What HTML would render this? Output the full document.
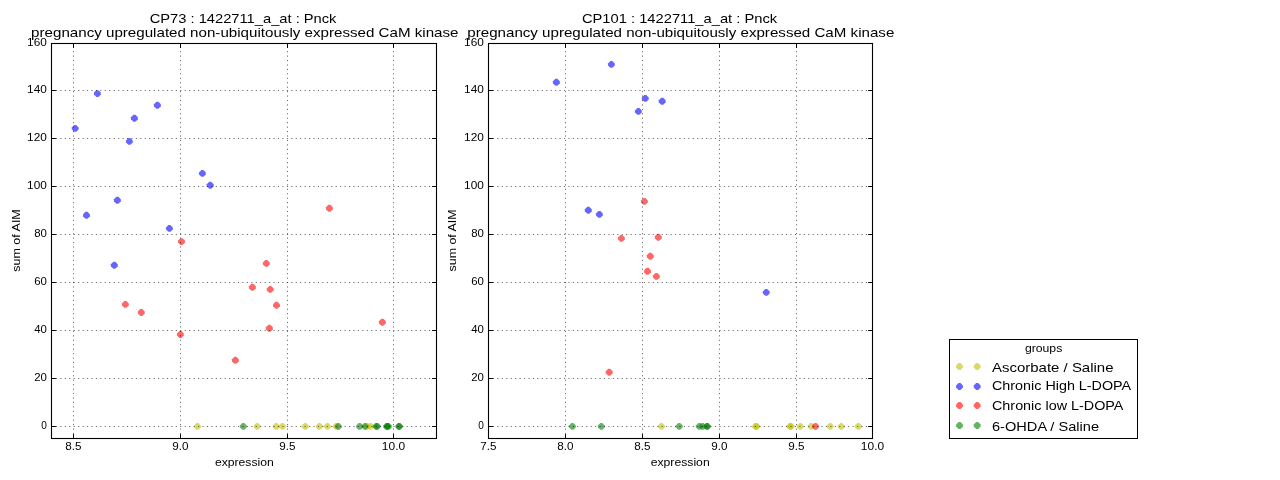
<!DOCTYPE html>
<html><head><meta charset="utf-8"><style>
html,body{margin:0;padding:0;background:#fff;width:1280px;height:480px;overflow:hidden}
svg{display:block;will-change:transform}
text{-webkit-font-smoothing:antialiased;font-family:"Liberation Sans",sans-serif;fill:#000}
.tk{font-size:11.2px}
.lb{font-size:11.6px}
.tt{font-size:13px}
.lg{font-size:13px}
.lg0{font-size:11px}
</style></head><body>
<svg width="1280" height="480" viewBox="0 0 1280 480">
<rect width="1280" height="480" fill="#fff"/>
<path d="M198.50 422.95 200.95 425.40 200.95 427.40 198.50 429.85 196.50 429.85 194.05 427.40 194.05 425.40 196.50 422.95Z" fill="#bfbf00" fill-opacity="0.6"/>
<path d="M258.20 422.95 260.65 425.40 260.65 427.40 258.20 429.85 256.20 429.85 253.75 427.40 253.75 425.40 256.20 422.95Z" fill="#bfbf00" fill-opacity="0.6"/>
<path d="M277.20 422.95 279.65 425.40 279.65 427.40 277.20 429.85 275.20 429.85 272.75 427.40 272.75 425.40 275.20 422.95Z" fill="#bfbf00" fill-opacity="0.6"/>
<path d="M283.40 422.95 285.85 425.40 285.85 427.40 283.40 429.85 281.40 429.85 278.95 427.40 278.95 425.40 281.40 422.95Z" fill="#bfbf00" fill-opacity="0.6"/>
<path d="M306.30 422.95 308.75 425.40 308.75 427.40 306.30 429.85 304.30 429.85 301.85 427.40 301.85 425.40 304.30 422.95Z" fill="#bfbf00" fill-opacity="0.6"/>
<path d="M320.40 422.95 322.85 425.40 322.85 427.40 320.40 429.85 318.40 429.85 315.95 427.40 315.95 425.40 318.40 422.95Z" fill="#bfbf00" fill-opacity="0.6"/>
<path d="M328.40 422.95 330.85 425.40 330.85 427.40 328.40 429.85 326.40 429.85 323.95 427.40 323.95 425.40 326.40 422.95Z" fill="#bfbf00" fill-opacity="0.6"/>
<path d="M337.20 422.95 339.65 425.40 339.65 427.40 337.20 429.85 335.20 429.85 332.75 427.40 332.75 425.40 335.20 422.95Z" fill="#bfbf00" fill-opacity="0.6"/>
<path d="M368.00 422.95 370.45 425.40 370.45 427.40 368.00 429.85 366.00 429.85 363.55 427.40 363.55 425.40 366.00 422.95Z" fill="#bfbf00" fill-opacity="0.6"/>
<path d="M371.60 422.95 374.05 425.40 374.05 427.40 371.60 429.85 369.60 429.85 367.15 427.40 367.15 425.40 369.60 422.95Z" fill="#bfbf00" fill-opacity="0.6"/>
<path d="M76.20 124.95 78.65 127.40 78.65 129.40 76.20 131.85 74.20 131.85 71.75 129.40 71.75 127.40 74.20 124.95Z" fill="#0000ff" fill-opacity="0.6"/>
<path d="M98.40 90.15 100.85 92.60 100.85 94.60 98.40 97.05 96.40 97.05 93.95 94.60 93.95 92.60 96.40 90.15Z" fill="#0000ff" fill-opacity="0.6"/>
<path d="M135.40 114.85 137.85 117.30 137.85 119.30 135.40 121.75 133.40 121.75 130.95 119.30 130.95 117.30 133.40 114.85Z" fill="#0000ff" fill-opacity="0.6"/>
<path d="M130.40 137.95 132.85 140.40 132.85 142.40 130.40 144.85 128.40 144.85 125.95 142.40 125.95 140.40 128.40 137.95Z" fill="#0000ff" fill-opacity="0.6"/>
<path d="M158.40 101.85 160.85 104.30 160.85 106.30 158.40 108.75 156.40 108.75 153.95 106.30 153.95 104.30 156.40 101.85Z" fill="#0000ff" fill-opacity="0.6"/>
<path d="M203.40 169.95 205.85 172.40 205.85 174.40 203.40 176.85 201.40 176.85 198.95 174.40 198.95 172.40 201.40 169.95Z" fill="#0000ff" fill-opacity="0.6"/>
<path d="M211.20 181.85 213.65 184.30 213.65 186.30 211.20 188.75 209.20 188.75 206.75 186.30 206.75 184.30 209.20 181.85Z" fill="#0000ff" fill-opacity="0.6"/>
<path d="M118.40 196.85 120.85 199.30 120.85 201.30 118.40 203.75 116.40 203.75 113.95 201.30 113.95 199.30 116.40 196.85Z" fill="#0000ff" fill-opacity="0.6"/>
<path d="M87.50 211.85 89.95 214.30 89.95 216.30 87.50 218.75 85.50 218.75 83.05 216.30 83.05 214.30 85.50 211.85Z" fill="#0000ff" fill-opacity="0.6"/>
<path d="M170.40 224.95 172.85 227.40 172.85 229.40 170.40 231.85 168.40 231.85 165.95 229.40 165.95 227.40 168.40 224.95Z" fill="#0000ff" fill-opacity="0.6"/>
<path d="M115.30 261.85 117.75 264.30 117.75 266.30 115.30 268.75 113.30 268.75 110.85 266.30 110.85 264.30 113.30 261.85Z" fill="#0000ff" fill-opacity="0.6"/>
<path d="M182.50 238.15 184.95 240.60 184.95 242.60 182.50 245.05 180.50 245.05 178.05 242.60 178.05 240.60 180.50 238.15Z" fill="#ff0000" fill-opacity="0.6"/>
<path d="M126.40 300.95 128.85 303.40 128.85 305.40 126.40 307.85 124.40 307.85 121.95 305.40 121.95 303.40 124.40 300.95Z" fill="#ff0000" fill-opacity="0.6"/>
<path d="M142.30 309.05 144.75 311.50 144.75 313.50 142.30 315.95 140.30 315.95 137.85 313.50 137.85 311.50 140.30 309.05Z" fill="#ff0000" fill-opacity="0.6"/>
<path d="M181.40 331.05 183.85 333.50 183.85 335.50 181.40 337.95 179.40 337.95 176.95 335.50 176.95 333.50 179.40 331.05Z" fill="#ff0000" fill-opacity="0.6"/>
<path d="M330.40 204.85 332.85 207.30 332.85 209.30 330.40 211.75 328.40 211.75 325.95 209.30 325.95 207.30 328.40 204.85Z" fill="#ff0000" fill-opacity="0.6"/>
<path d="M267.30 259.95 269.75 262.40 269.75 264.40 267.30 266.85 265.30 266.85 262.85 264.40 262.85 262.40 265.30 259.95Z" fill="#ff0000" fill-opacity="0.6"/>
<path d="M253.40 283.85 255.85 286.30 255.85 288.30 253.40 290.75 251.40 290.75 248.95 288.30 248.95 286.30 251.40 283.85Z" fill="#ff0000" fill-opacity="0.6"/>
<path d="M271.20 285.95 273.65 288.40 273.65 290.40 271.20 292.85 269.20 292.85 266.75 290.40 266.75 288.40 269.20 285.95Z" fill="#ff0000" fill-opacity="0.6"/>
<path d="M277.50 301.85 279.95 304.30 279.95 306.30 277.50 308.75 275.50 308.75 273.05 306.30 273.05 304.30 275.50 301.85Z" fill="#ff0000" fill-opacity="0.6"/>
<path d="M270.40 324.85 272.85 327.30 272.85 329.30 270.40 331.75 268.40 331.75 265.95 329.30 265.95 327.30 268.40 324.85Z" fill="#ff0000" fill-opacity="0.6"/>
<path d="M236.40 356.85 238.85 359.30 238.85 361.30 236.40 363.75 234.40 363.75 231.95 361.30 231.95 359.30 234.40 356.85Z" fill="#ff0000" fill-opacity="0.6"/>
<path d="M383.40 318.85 385.85 321.30 385.85 323.30 383.40 325.75 381.40 325.75 378.95 323.30 378.95 321.30 381.40 318.85Z" fill="#ff0000" fill-opacity="0.6"/>
<path d="M244.30 422.95 246.75 425.40 246.75 427.40 244.30 429.85 242.30 429.85 239.85 427.40 239.85 425.40 242.30 422.95Z" fill="#008000" fill-opacity="0.6"/>
<path d="M339.30 422.95 341.75 425.40 341.75 427.40 339.30 429.85 337.30 429.85 334.85 427.40 334.85 425.40 337.30 422.95Z" fill="#008000" fill-opacity="0.6"/>
<path d="M360.60 422.95 363.05 425.40 363.05 427.40 360.60 429.85 358.60 429.85 356.15 427.40 356.15 425.40 358.60 422.95Z" fill="#008000" fill-opacity="0.6"/>
<path d="M366.00 422.95 368.45 425.40 368.45 427.40 366.00 429.85 364.00 429.85 361.55 427.40 361.55 425.40 364.00 422.95Z" fill="#008000" fill-opacity="0.6"/>
<path d="M377.20 422.95 379.65 425.40 379.65 427.40 377.20 429.85 375.20 429.85 372.75 427.40 372.75 425.40 375.20 422.95Z" fill="#008000" fill-opacity="0.6"/>
<path d="M378.20 422.95 380.65 425.40 380.65 427.40 378.20 429.85 376.20 429.85 373.75 427.40 373.75 425.40 376.20 422.95Z" fill="#008000" fill-opacity="0.6"/>
<path d="M387.60 422.95 390.05 425.40 390.05 427.40 387.60 429.85 385.60 429.85 383.15 427.40 383.15 425.40 385.60 422.95Z" fill="#008000" fill-opacity="0.6"/>
<path d="M388.40 422.95 390.85 425.40 390.85 427.40 388.40 429.85 386.40 429.85 383.95 427.40 383.95 425.40 386.40 422.95Z" fill="#008000" fill-opacity="0.6"/>
<path d="M389.40 422.95 391.85 425.40 391.85 427.40 389.40 429.85 387.40 429.85 384.95 427.40 384.95 425.40 387.40 422.95Z" fill="#008000" fill-opacity="0.6"/>
<path d="M400.10 422.95 402.55 425.40 402.55 427.40 400.10 429.85 398.10 429.85 395.65 427.40 395.65 425.40 398.10 422.95Z" fill="#008000" fill-opacity="0.6"/>
<path d="M400.10 422.95 402.55 425.40 402.55 427.40 400.10 429.85 398.10 429.85 395.65 427.40 395.65 425.40 398.10 422.95Z" fill="#008000" fill-opacity="0.6"/>
<path d="M73.5 438.5V43.5M180.5 438.5V43.5M287.5 438.5V43.5M393.5 438.5V43.5M51.5 90.5H436.5M51.5 138.5H436.5M51.5 186.5H436.5M51.5 234.5H436.5M51.5 282.5H436.5M51.5 330.5H436.5M51.5 378.5H436.5M51.5 426.5H436.5" stroke="#000" stroke-width="0.6" stroke-dasharray="1.11 3.33" fill="none"/>
<path d="M73.5 438.5v-4.4M73.5 43.5v4.4M180.5 438.5v-4.4M180.5 43.5v4.4M287.5 438.5v-4.4M287.5 43.5v4.4M393.5 438.5v-4.4M393.5 43.5v4.4M51.5 43.5h4.4M436.5 43.5h-4.4M51.5 90.5h4.4M436.5 90.5h-4.4M51.5 138.5h4.4M436.5 138.5h-4.4M51.5 186.5h4.4M436.5 186.5h-4.4M51.5 234.5h4.4M436.5 234.5h-4.4M51.5 282.5h4.4M436.5 282.5h-4.4M51.5 330.5h4.4M436.5 330.5h-4.4M51.5 378.5h4.4M436.5 378.5h-4.4M51.5 426.5h4.4M436.5 426.5h-4.4" stroke="#000" stroke-width="1" fill="none"/>
<rect x="51.5" y="43.5" width="385" height="395" fill="none" stroke="#000" stroke-width="1.1"/>
<text x="73.5" y="450.2" class="tk" text-anchor="middle" textLength="16.22" lengthAdjust="spacingAndGlyphs">8.5</text>
<text x="180.5" y="450.2" class="tk" text-anchor="middle" textLength="16.22" lengthAdjust="spacingAndGlyphs">9.0</text>
<text x="287.5" y="450.2" class="tk" text-anchor="middle" textLength="16.22" lengthAdjust="spacingAndGlyphs">9.5</text>
<text x="393.5" y="450.2" class="tk" text-anchor="middle" textLength="23.29" lengthAdjust="spacingAndGlyphs">10.0</text>
<text x="46.9" y="45.6" class="tk" text-anchor="end" textLength="19.76" lengthAdjust="spacingAndGlyphs">160</text>
<text x="46.9" y="92.6" class="tk" text-anchor="end" textLength="19.76" lengthAdjust="spacingAndGlyphs">140</text>
<text x="46.9" y="140.6" class="tk" text-anchor="end" textLength="19.76" lengthAdjust="spacingAndGlyphs">120</text>
<text x="46.9" y="188.6" class="tk" text-anchor="end" textLength="19.76" lengthAdjust="spacingAndGlyphs">100</text>
<text x="46.9" y="236.6" class="tk" text-anchor="end" textLength="12.69" lengthAdjust="spacingAndGlyphs">80</text>
<text x="46.9" y="284.6" class="tk" text-anchor="end" textLength="12.69" lengthAdjust="spacingAndGlyphs">60</text>
<text x="46.9" y="332.6" class="tk" text-anchor="end" textLength="12.69" lengthAdjust="spacingAndGlyphs">40</text>
<text x="46.9" y="380.6" class="tk" text-anchor="end" textLength="12.69" lengthAdjust="spacingAndGlyphs">20</text>
<text x="46.9" y="428.6" class="tk" text-anchor="end" textLength="5.62" lengthAdjust="spacingAndGlyphs">0</text>
<text x="244.35" y="465.9" class="lb" text-anchor="middle" textLength="58.9" lengthAdjust="spacingAndGlyphs">expression</text>
<text transform="translate(19.7 240.5) rotate(-90)" x="0" y="0" class="lb" text-anchor="middle" textLength="62.6" lengthAdjust="spacingAndGlyphs">sum of AIM</text>
<text x="243.1" y="23" class="tt" text-anchor="middle" textLength="186.8" lengthAdjust="spacingAndGlyphs">CP73 : 1422711_a_at : Pnck</text>
<text x="244.8" y="36.7" class="tt" text-anchor="middle" textLength="427.4" lengthAdjust="spacingAndGlyphs">pregnancy upregulated non-ubiquitously expressed CaM kinase</text>
<path d="M662.40 422.95 664.85 425.40 664.85 427.40 662.40 429.85 660.40 429.85 657.95 427.40 657.95 425.40 660.40 422.95Z" fill="#bfbf00" fill-opacity="0.6"/>
<path d="M756.50 422.95 758.95 425.40 758.95 427.40 756.50 429.85 754.50 429.85 752.05 427.40 752.05 425.40 754.50 422.95Z" fill="#bfbf00" fill-opacity="0.6"/>
<path d="M757.80 422.95 760.25 425.40 760.25 427.40 757.80 429.85 755.80 429.85 753.35 427.40 753.35 425.40 755.80 422.95Z" fill="#bfbf00" fill-opacity="0.6"/>
<path d="M791.00 422.95 793.45 425.40 793.45 427.40 791.00 429.85 789.00 429.85 786.55 427.40 786.55 425.40 789.00 422.95Z" fill="#bfbf00" fill-opacity="0.6"/>
<path d="M792.00 422.95 794.45 425.40 794.45 427.40 792.00 429.85 790.00 429.85 787.55 427.40 787.55 425.40 790.00 422.95Z" fill="#bfbf00" fill-opacity="0.6"/>
<path d="M801.30 422.95 803.75 425.40 803.75 427.40 801.30 429.85 799.30 429.85 796.85 427.40 796.85 425.40 799.30 422.95Z" fill="#bfbf00" fill-opacity="0.6"/>
<path d="M812.25 422.95 814.70 425.40 814.70 427.40 812.25 429.85 810.25 429.85 807.80 427.40 807.80 425.40 810.25 422.95Z" fill="#bfbf00" fill-opacity="0.6"/>
<path d="M831.20 422.95 833.65 425.40 833.65 427.40 831.20 429.85 829.20 429.85 826.75 427.40 826.75 425.40 829.20 422.95Z" fill="#bfbf00" fill-opacity="0.6"/>
<path d="M842.30 422.95 844.75 425.40 844.75 427.40 842.30 429.85 840.30 429.85 837.85 427.40 837.85 425.40 840.30 422.95Z" fill="#bfbf00" fill-opacity="0.6"/>
<path d="M859.30 422.95 861.75 425.40 861.75 427.40 859.30 429.85 857.30 429.85 854.85 427.40 854.85 425.40 857.30 422.95Z" fill="#bfbf00" fill-opacity="0.6"/>
<path d="M557.40 78.85 559.85 81.30 559.85 83.30 557.40 85.75 555.40 85.75 552.95 83.30 552.95 81.30 555.40 78.85Z" fill="#0000ff" fill-opacity="0.6"/>
<path d="M612.40 60.95 614.85 63.40 614.85 65.40 612.40 67.85 610.40 67.85 607.95 65.40 607.95 63.40 610.40 60.95Z" fill="#0000ff" fill-opacity="0.6"/>
<path d="M646.30 94.95 648.75 97.40 648.75 99.40 646.30 101.85 644.30 101.85 641.85 99.40 641.85 97.40 644.30 94.95Z" fill="#0000ff" fill-opacity="0.6"/>
<path d="M663.20 97.80 665.65 100.25 665.65 102.25 663.20 104.70 661.20 104.70 658.75 102.25 658.75 100.25 661.20 97.80Z" fill="#0000ff" fill-opacity="0.6"/>
<path d="M639.40 107.95 641.85 110.40 641.85 112.40 639.40 114.85 637.40 114.85 634.95 112.40 634.95 110.40 637.40 107.95Z" fill="#0000ff" fill-opacity="0.6"/>
<path d="M589.30 206.85 591.75 209.30 591.75 211.30 589.30 213.75 587.30 213.75 584.85 211.30 584.85 209.30 587.30 206.85Z" fill="#0000ff" fill-opacity="0.6"/>
<path d="M600.40 210.95 602.85 213.40 602.85 215.40 600.40 217.85 598.40 217.85 595.95 215.40 595.95 213.40 598.40 210.95Z" fill="#0000ff" fill-opacity="0.6"/>
<path d="M767.25 288.95 769.70 291.40 769.70 293.40 767.25 295.85 765.25 295.85 762.80 293.40 762.80 291.40 765.25 288.95Z" fill="#0000ff" fill-opacity="0.6"/>
<path d="M645.40 197.95 647.85 200.40 647.85 202.40 645.40 204.85 643.40 204.85 640.95 202.40 640.95 200.40 643.40 197.95Z" fill="#ff0000" fill-opacity="0.6"/>
<path d="M622.40 234.95 624.85 237.40 624.85 239.40 622.40 241.85 620.40 241.85 617.95 239.40 617.95 237.40 620.40 234.95Z" fill="#ff0000" fill-opacity="0.6"/>
<path d="M659.30 233.85 661.75 236.30 661.75 238.30 659.30 240.75 657.30 240.75 654.85 238.30 654.85 236.30 657.30 233.85Z" fill="#ff0000" fill-opacity="0.6"/>
<path d="M651.30 252.80 653.75 255.25 653.75 257.25 651.30 259.70 649.30 259.70 646.85 257.25 646.85 255.25 649.30 252.80Z" fill="#ff0000" fill-opacity="0.6"/>
<path d="M648.50 267.80 650.95 270.25 650.95 272.25 648.50 274.70 646.50 274.70 644.05 272.25 644.05 270.25 646.50 267.80Z" fill="#ff0000" fill-opacity="0.6"/>
<path d="M657.40 272.95 659.85 275.40 659.85 277.40 657.40 279.85 655.40 279.85 652.95 277.40 652.95 275.40 655.40 272.95Z" fill="#ff0000" fill-opacity="0.6"/>
<path d="M610.20 368.85 612.65 371.30 612.65 373.30 610.20 375.75 608.20 375.75 605.75 373.30 605.75 371.30 608.20 368.85Z" fill="#ff0000" fill-opacity="0.6"/>
<path d="M816.50 422.95 818.95 425.40 818.95 427.40 816.50 429.85 814.50 429.85 812.05 427.40 812.05 425.40 814.50 422.95Z" fill="#ff0000" fill-opacity="0.6"/>
<path d="M573.40 422.95 575.85 425.40 575.85 427.40 573.40 429.85 571.40 429.85 568.95 427.40 568.95 425.40 571.40 422.95Z" fill="#008000" fill-opacity="0.6"/>
<path d="M602.30 422.95 604.75 425.40 604.75 427.40 602.30 429.85 600.30 429.85 597.85 427.40 597.85 425.40 600.30 422.95Z" fill="#008000" fill-opacity="0.6"/>
<path d="M680.20 422.95 682.65 425.40 682.65 427.40 680.20 429.85 678.20 429.85 675.75 427.40 675.75 425.40 678.20 422.95Z" fill="#008000" fill-opacity="0.6"/>
<path d="M700.30 422.95 702.75 425.40 702.75 427.40 700.30 429.85 698.30 429.85 695.85 427.40 695.85 425.40 698.30 422.95Z" fill="#008000" fill-opacity="0.6"/>
<path d="M703.60 422.95 706.05 425.40 706.05 427.40 703.60 429.85 701.60 429.85 699.15 427.40 699.15 425.40 701.60 422.95Z" fill="#008000" fill-opacity="0.6"/>
<path d="M708.10 422.95 710.55 425.40 710.55 427.40 708.10 429.85 706.10 429.85 703.65 427.40 703.65 425.40 706.10 422.95Z" fill="#008000" fill-opacity="0.6"/>
<path d="M708.10 422.95 710.55 425.40 710.55 427.40 708.10 429.85 706.10 429.85 703.65 427.40 703.65 425.40 706.10 422.95Z" fill="#008000" fill-opacity="0.6"/>
<path d="M565.5 438.5V43.5M642.5 438.5V43.5M719.5 438.5V43.5M796.5 438.5V43.5M488.5 90.5H872.5M488.5 138.5H872.5M488.5 186.5H872.5M488.5 234.5H872.5M488.5 282.5H872.5M488.5 330.5H872.5M488.5 378.5H872.5M488.5 426.5H872.5" stroke="#000" stroke-width="0.6" stroke-dasharray="1.11 3.33" fill="none"/>
<path d="M488.5 438.5v-4.4M488.5 43.5v4.4M565.5 438.5v-4.4M565.5 43.5v4.4M642.5 438.5v-4.4M642.5 43.5v4.4M719.5 438.5v-4.4M719.5 43.5v4.4M796.5 438.5v-4.4M796.5 43.5v4.4M872.5 438.5v-4.4M872.5 43.5v4.4M488.5 43.5h4.4M872.5 43.5h-4.4M488.5 90.5h4.4M872.5 90.5h-4.4M488.5 138.5h4.4M872.5 138.5h-4.4M488.5 186.5h4.4M872.5 186.5h-4.4M488.5 234.5h4.4M872.5 234.5h-4.4M488.5 282.5h4.4M872.5 282.5h-4.4M488.5 330.5h4.4M872.5 330.5h-4.4M488.5 378.5h4.4M872.5 378.5h-4.4M488.5 426.5h4.4M872.5 426.5h-4.4" stroke="#000" stroke-width="1" fill="none"/>
<rect x="488.5" y="43.5" width="384" height="395" fill="none" stroke="#000" stroke-width="1.1"/>
<text x="488.5" y="450.2" class="tk" text-anchor="middle" textLength="16.22" lengthAdjust="spacingAndGlyphs">7.5</text>
<text x="565.5" y="450.2" class="tk" text-anchor="middle" textLength="16.22" lengthAdjust="spacingAndGlyphs">8.0</text>
<text x="642.5" y="450.2" class="tk" text-anchor="middle" textLength="16.22" lengthAdjust="spacingAndGlyphs">8.5</text>
<text x="719.5" y="450.2" class="tk" text-anchor="middle" textLength="16.22" lengthAdjust="spacingAndGlyphs">9.0</text>
<text x="796.5" y="450.2" class="tk" text-anchor="middle" textLength="16.22" lengthAdjust="spacingAndGlyphs">9.5</text>
<text x="872.5" y="450.2" class="tk" text-anchor="middle" textLength="23.29" lengthAdjust="spacingAndGlyphs">10.0</text>
<text x="483.9" y="45.6" class="tk" text-anchor="end" textLength="19.76" lengthAdjust="spacingAndGlyphs">160</text>
<text x="483.9" y="92.6" class="tk" text-anchor="end" textLength="19.76" lengthAdjust="spacingAndGlyphs">140</text>
<text x="483.9" y="140.6" class="tk" text-anchor="end" textLength="19.76" lengthAdjust="spacingAndGlyphs">120</text>
<text x="483.9" y="188.6" class="tk" text-anchor="end" textLength="19.76" lengthAdjust="spacingAndGlyphs">100</text>
<text x="483.9" y="236.6" class="tk" text-anchor="end" textLength="12.69" lengthAdjust="spacingAndGlyphs">80</text>
<text x="483.9" y="284.6" class="tk" text-anchor="end" textLength="12.69" lengthAdjust="spacingAndGlyphs">60</text>
<text x="483.9" y="332.6" class="tk" text-anchor="end" textLength="12.69" lengthAdjust="spacingAndGlyphs">40</text>
<text x="483.9" y="380.6" class="tk" text-anchor="end" textLength="12.69" lengthAdjust="spacingAndGlyphs">20</text>
<text x="483.9" y="428.6" class="tk" text-anchor="end" textLength="5.62" lengthAdjust="spacingAndGlyphs">0</text>
<text x="680.2" y="465.9" class="lb" text-anchor="middle" textLength="59.0" lengthAdjust="spacingAndGlyphs">expression</text>
<text transform="translate(455.8 240.4) rotate(-90)" x="0" y="0" class="lb" text-anchor="middle" textLength="62.0" lengthAdjust="spacingAndGlyphs">sum of AIM</text>
<text x="679.55" y="23" class="tt" text-anchor="middle" textLength="195.3" lengthAdjust="spacingAndGlyphs">CP101 : 1422711_a_at : Pnck</text>
<text x="680.8" y="36.7" class="tt" text-anchor="middle" textLength="427.0" lengthAdjust="spacingAndGlyphs">pregnancy upregulated non-ubiquitously expressed CaM kinase</text>
<rect x="949.5" y="339.5" width="188" height="99" fill="#fff" stroke="#000" stroke-width="1"/>
<text x="1043.6" y="352" class="lg0" text-anchor="middle" textLength="37.4" lengthAdjust="spacingAndGlyphs">groups</text>
<path d="M960.50 363.05 962.95 365.50 962.95 367.50 960.50 369.95 958.50 369.95 956.05 367.50 956.05 365.50 958.50 363.05Z" fill="#bfbf00" fill-opacity="0.6"/>
<path d="M978.20 363.05 980.65 365.50 980.65 367.50 978.20 369.95 976.20 369.95 973.75 367.50 973.75 365.50 976.20 363.05Z" fill="#bfbf00" fill-opacity="0.6"/>
<text x="992" y="371.8" class="lg" textLength="121.50000000000011" lengthAdjust="spacingAndGlyphs">Ascorbate / Saline</text>
<path d="M960.50 383.05 962.95 385.50 962.95 387.50 960.50 389.95 958.50 389.95 956.05 387.50 956.05 385.50 958.50 383.05Z" fill="#0000ff" fill-opacity="0.6"/>
<path d="M978.20 383.05 980.65 385.50 980.65 387.50 978.20 389.95 976.20 389.95 973.75 387.50 973.75 385.50 976.20 383.05Z" fill="#0000ff" fill-opacity="0.6"/>
<text x="992" y="389.9" class="lg" textLength="139.19999999999993" lengthAdjust="spacingAndGlyphs">Chronic High L-DOPA</text>
<path d="M960.50 402.05 962.95 404.50 962.95 406.50 960.50 408.95 958.50 408.95 956.05 406.50 956.05 404.50 958.50 402.05Z" fill="#ff0000" fill-opacity="0.6"/>
<path d="M978.20 402.05 980.65 404.50 980.65 406.50 978.20 408.95 976.20 408.95 973.75 406.50 973.75 404.50 976.20 402.05Z" fill="#ff0000" fill-opacity="0.6"/>
<text x="992" y="409.9" class="lg" textLength="131.39999999999998" lengthAdjust="spacingAndGlyphs">Chronic low L-DOPA</text>
<path d="M960.50 422.05 962.95 424.50 962.95 426.50 960.50 428.95 958.50 428.95 956.05 426.50 956.05 424.50 958.50 422.05Z" fill="#008000" fill-opacity="0.6"/>
<path d="M978.20 422.05 980.65 424.50 980.65 426.50 978.20 428.95 976.20 428.95 973.75 426.50 973.75 424.50 976.20 422.05Z" fill="#008000" fill-opacity="0.6"/>
<text x="992" y="430.8" class="lg" textLength="107.00000000000011" lengthAdjust="spacingAndGlyphs">6-OHDA / Saline</text>
</svg>
</body></html>
